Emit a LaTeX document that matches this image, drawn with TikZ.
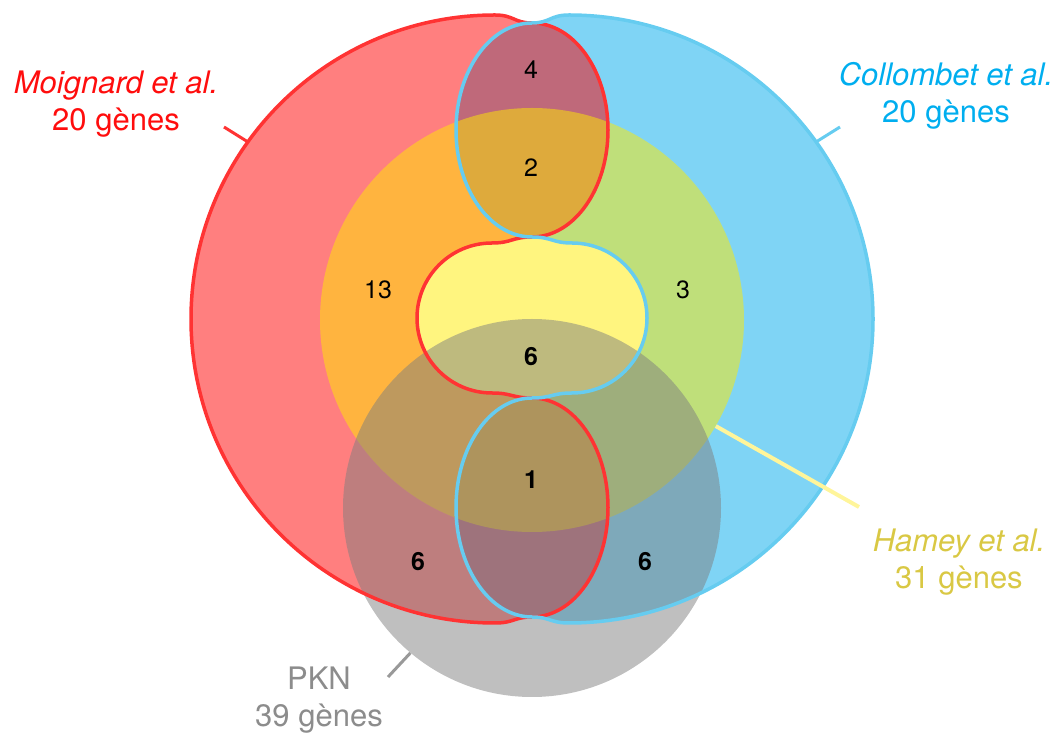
\documentclass[tikz,border=0pt]{standalone}
\usepackage{fontspec}
\setmainfont{TeX Gyre Heros}
\definecolor{moigc}{HTML}{FF0000}
\definecolor{collc}{HTML}{00AAEB}
\definecolor{hamc}{HTML}{FFEB00}
\definecolor{pknc}{HTML}{7F7F7F}
\definecolor{moigl}{HTML}{FF3333}
\definecolor{colll}{HTML}{66CCF0}
\definecolor{haml}{HTML}{FFF59A}
\definecolor{pknl}{HTML}{999999}
\definecolor{moigt}{HTML}{FF0D0D}
\definecolor{collt}{HTML}{00AEEF}
\definecolor{hamt}{HTML}{D9C844}
\definecolor{pknt}{HTML}{8C8C8C}
\newcommand{\halfset}{%
  (-37,721) arc[start angle=90, end angle=270, radius=304]
  .. controls (-18,113) and (-18,119) .. (0,119)
  arc[start angle=-90, end angle=90, x radius=76, y radius=109.5]
  .. controls (-20,338) and (-20,343) .. (-40,343)
  arc[start angle=270, end angle=90, radius=75]
  .. controls (-20,493) and (-20,499) .. (0,499)
  arc[start angle=-90, end angle=90, x radius=76, y radius=107]
  .. controls (-18,713) and (-18,721) .. (-37,721) -- cycle}
\newcommand{\setname}[4]{%
  \node[setname, text=#3] (#1) at #2 {#4};
}

\begin{document}
\begin{tikzpicture}[x=1pt, y=1pt,
    setfill/.style={fill opacity=0.5},
    setedge/.style={line width=3.5pt},
    tick/.style={line width=3pt},
    setname/.style={align=center, font=\fontsize{31}{37}\selectfont, inner sep=0pt},
    count/.style={font=\fontsize{25}{30}\selectfont, inner sep=0pt}]
  \useasboundingbox (0,0) rectangle (1060,736);
  \fill[collc, setfill, shift={(532,0)}, xscale=-1] \halfset;
  \fill[moigc, setfill, shift={(532,0)}] \halfset;
  \node[circle, fill=hamc, setfill, minimum size=424pt, inner sep=0pt] (hamey) at (532,416) {};
  \node[circle, fill=pknc, setfill, minimum size=378pt, inner sep=0pt] (pkn) at (532,228) {};
  \draw[moigl, setedge, shift={(532,0)}] \halfset;
  \draw[colll, setedge, shift={(532,0)}, xscale=-1] \halfset;
  \coordinate (moig-edge) at (248,594);
  \coordinate (moig-tip) at (224,609);
  \coordinate (coll-edge) at (816,594);
  \coordinate (coll-tip) at (840,609);
  \coordinate (hamey-tip) at (859,229);
  \coordinate (pkn-tip) at (388,59);
  \draw[tick, moigl] (moig-edge) -- (moig-tip);
  \draw[tick, colll] (coll-edge) -- (coll-tip);
  \draw[tick, haml, line width=4pt] (hamey.-30) -- (hamey-tip);
  \draw[tick, pknl] (pkn.230) -- (pkn-tip);
  \setname{moig-lab}{(116,632)}{moigt}{\textit{Moignard et al.}\\20 gènes}
  \setname{coll-lab}{(946,640)}{collt}{\textit{Collombet et al.}\\20 gènes}
  \setname{hamey-lab}{(959,174)}{hamt}{\textit{Hamey et al.}\\31 gènes}
  \setname{pkn-lab}{(319,36)}{pknt}{PKN\\39 gènes}
  \foreach \nm/\x/\y/\txt in {n4/531/666/4, n2/531/568/2, n13/378/446/13,
      n3/683/446/3, n6c/531/379/\textbf{6}, n1/531/256/\textbf{1},
      n6l/418/174/\textbf{6}, n6r/645/174/\textbf{6}}
    \node[count] (\nm) at (\x,\y) {\txt};
\end{tikzpicture}
\end{document}
